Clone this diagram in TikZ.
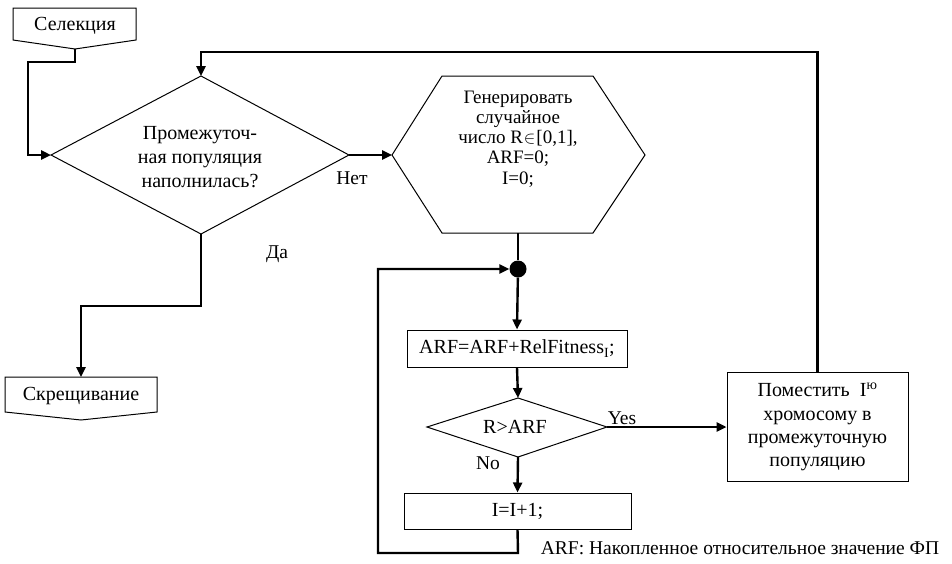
\documentclass[tikz,border=0pt]{standalone}
\usepackage{fontspec}
\setmainfont{Liberation Serif}
\usetikzlibrary{arrows.meta}
\begin{document}
\begin{tikzpicture}[x=1pt,y=-1pt,
  outline/.style={draw, line width=1pt, line join=miter},
  link/.style={line width=2.4pt},
  flow/.style={line width=2.4pt, -{Triangle[length=10pt,width=9pt]}},
  txt/.style={font=\fontsize{20}{24}\selectfont, align=center, inner sep=0pt},
  lbl/.style={font=\fontsize{19.5}{22}\selectfont, inner sep=0pt},
  box/.style={draw, line width=1pt, inner sep=0pt, align=center, font=\fontsize{20}{23.3}\selectfont}
]
\useasboundingbox (0,0) rectangle (952,563);

% start / end terminals (pentagon pointing down)
\draw[outline] (13,8) -- (136,8) -- (136,40) -- (75,49) coordinate (selS) -- (13,40) -- cycle;
\node[txt] (sel) at (75,26) {Селекция};
\draw[outline] (5,377) -- (157,377) -- (157,412) -- (81,420) -- (5,412) -- cycle;
\coordinate (skrN) at (81,377);
\node[txt] (skr) at (81,396) {Скрещивание};

% decision: is the intermediate population full?
\coordinate (d1N) at (201,76);
\coordinate (d1E) at (349,155);
\coordinate (d1S) at (201,234);
\coordinate (d1W) at (51,155);
\draw[outline] (d1N) -- (d1E) -- (d1S) -- (d1W) -- cycle;
\node[txt, font=\fontsize{20}{24}\selectfont] (q1) at (200,157) {Промежуточ-\\ная популяция\\наполнилась?};

% preparation hexagon
\coordinate (hexW) at (392,155);
\coordinate (hexS) at (518,233);
\draw[outline] (hexW) -- (442,76) -- (593,76) -- (645,155) -- (593,233) -- (442,233) -- cycle;
\node[txt, font=\fontsize{19}{20.2}\selectfont] (init) at (518,139)
  {Генерировать\\случайное\\число R\kern1pt$\in$\kern1pt[0,1],\\ARF=0;\\I=0;};

% junction point
\node[circle, fill, minimum size=17pt, inner sep=0pt] (dot) at (518,269) {};

% process boxes
\node[box, minimum width=220pt, minimum height=37pt] (arf) at (517,348.5) {ARF=ARF+RelFitness\textsubscript{I};};
\node[box, minimum width=227pt, minimum height=36pt] (inc) at (517.5,511) {I=I+1;};
\node[box, minimum width=181pt, minimum height=109pt] (put) at (817.5,427)
  {Поместить\ \ I\textsuperscript{ю}\\хромосому в\\промежуточную\\популяцию};

% decision: R > ARF
\coordinate (d2N) at (518,398);
\coordinate (d2E) at (607,427);
\coordinate (d2S) at (518,457);
\coordinate (d2W) at (427,427);
\draw[outline] (d2N) -- (d2E) -- (d2S) -- (d2W) -- cycle;
\node[txt] (q2) at (515,427) {R>ARF};

% connectors
\draw[flow] (selS) |- (28,62) |- (d1W);
\draw[flow] (d1E) -- (hexW);
\draw[flow] (d1S) -- (201,306) -| (skrN);
\draw[link] (hexS) -- (dot);
\draw[flow] (dot) -- (arf.north);
\draw[flow] (arf.south) -- (d2N);
\draw[flow] (d2S) -- (inc.north);
\draw[flow] (inc.south) -- (518,553) -| (378,269) -- (dot.west);
\draw[flow] (d2E) -- (put.west);
\draw[flow] (put.north) |- (201,52) -- (d1N);

% branch labels
\node[lbl] (no1) at (352,178) {Нет};
\node[lbl] (yes1) at (277,254) {Да};
\node[lbl] (yes2) at (622,418) {Yes};
\node[lbl] (no2) at (488,463) {No};

% legend
\node[lbl] (note) at (740,548) {ARF: Накопленное относительное значение ФП};
\end{tikzpicture}
\end{document}
